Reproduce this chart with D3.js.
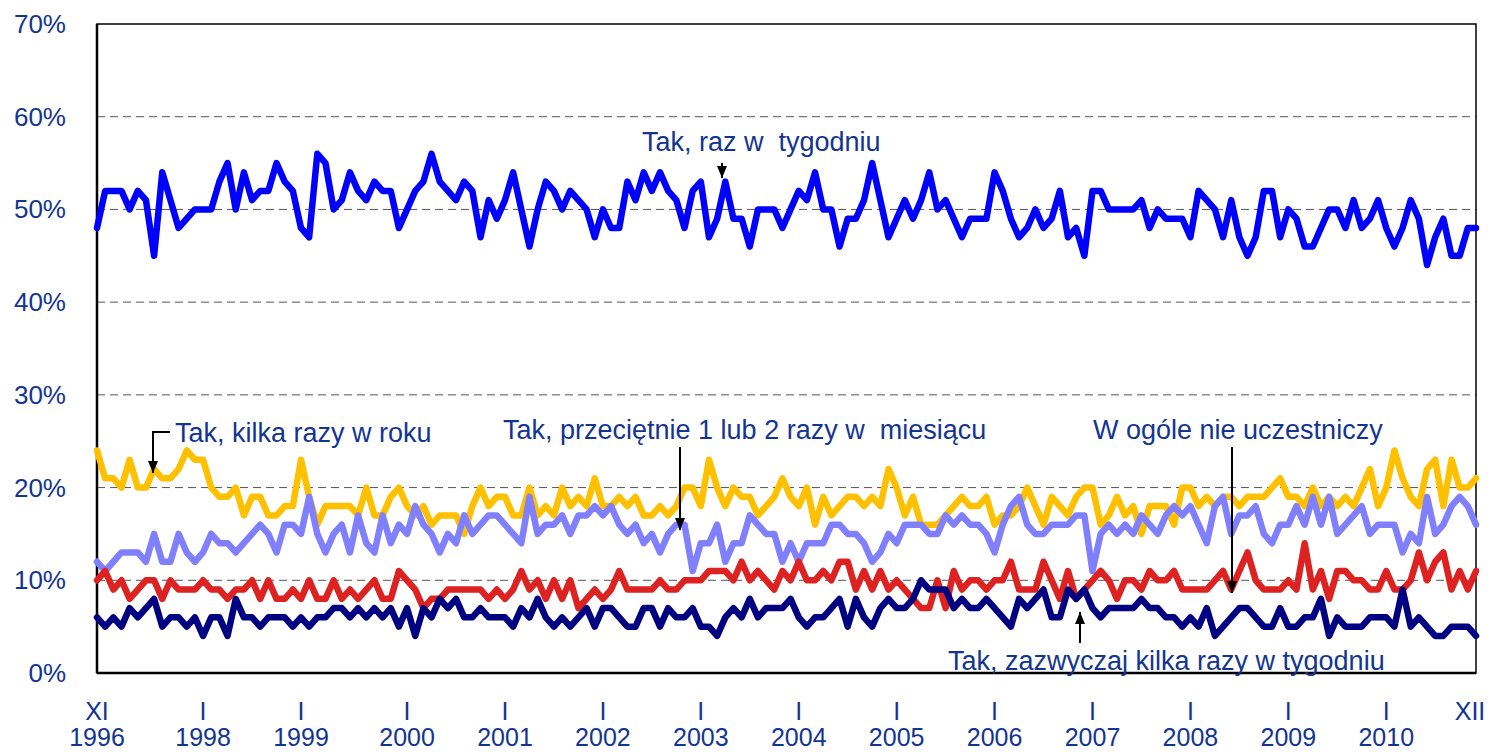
<!DOCTYPE html>
<html>
<head>
<meta charset="utf-8">
<script src="https://cdn.jsdelivr.net/npm/d3@7"></script>
<style>
	body { margin: 0; background: #fff; }
	svg { display: block; font-family: "Liberation Sans", Arial, sans-serif; }
</style>
</head>
<body>
<div id="chart"></div>
<script>
// one value per survey, XI 1996 .. XII 2010
var razWTygodniu = [48,52,52,52,50,52,51,45,54,51,48,49,50,50,50,53,55,50,54,51,52,52,55,53,52,48,47,56,55,50,
	51,54,52,51,53,52,52,48,50,52,53,56,53,52,51,53,52,47,51,49,51,54,50,46,50,53,52,50,52,51,
	50,47,50,48,48,53,51,54,52,54,52,51,48,52,53,47,49,53,49,49,46,50,50,50,48,50,52,51,54,50,
	50,46,49,49,51,55,51,47,49,51,49,51,54,50,51,49,47,49,49,49,54,52,49,47,48,50,48,49,52,47,
	48,45,52,52,50,50,50,50,51,48,50,49,49,49,47,52,51,50,47,51,47,45,47,52,52,47,50,49,46,46,
	48,50,50,48,51,48,49,51,48,46,48,51,49,44,47,49,45,45,48,48];
var kilkaRazyWRoku = [24,21,21,20,23,20,20,22,21,21,22,24,23,23,20,19,19,20,17,19,19,17,17,18,18,23,19,16,18,18,
	18,18,17,20,17,17,19,20,18,17,18,16,17,17,17,15,18,20,18,19,19,17,17,20,17,18,17,20,18,19,
	18,21,18,18,19,18,19,17,17,18,17,18,20,20,18,23,20,18,20,19,19,17,18,19,21,19,18,20,16,19,
	17,18,19,19,18,19,18,22,20,17,19,16,16,16,17,18,19,18,18,19,16,17,17,18,20,18,16,19,18,17,
	19,20,20,16,17,19,17,18,15,18,18,18,16,20,20,18,19,18,19,19,18,19,19,19,20,21,19,19,18,20,
	18,19,18,19,18,20,22,18,20,24,21,19,18,22,23,18,23,20,20,21];
var razyWMiesiacu = [12,11,12,13,13,13,12,15,12,12,15,13,12,13,15,14,14,13,14,15,16,15,13,16,16,15,19,15,13,15,
	16,13,17,14,13,17,14,16,15,18,16,15,13,15,14,17,15,16,17,17,16,15,14,19,15,16,16,17,15,17,
	17,18,17,18,16,15,16,14,15,13,15,16,16,11,14,14,16,12,14,14,17,16,15,15,12,14,12,14,14,14,
	16,16,15,15,14,12,13,15,14,16,16,16,15,15,17,16,17,16,16,15,13,16,18,19,16,15,15,16,16,16,
	17,17,11,15,16,15,16,15,17,16,15,17,18,17,18,16,14,18,19,15,17,17,18,15,14,16,16,18,16,19,
	16,19,15,16,17,18,15,16,16,16,13,15,14,19,15,16,18,19,18,16];
var nieUczestniczy = [10,11,9,10,8,9,10,10,8,10,9,9,9,10,9,9,8,9,9,10,8,10,8,8,9,8,10,8,8,10,
	8,9,8,9,10,8,8,11,10,9,7,8,8,9,9,9,9,9,8,9,8,9,11,9,10,8,10,8,10,7,
	8,9,8,9,11,9,9,9,9,10,9,9,10,10,10,11,11,11,10,12,10,11,10,9,11,10,12,10,10,11,
	10,12,12,9,11,9,11,9,10,9,8,7,7,10,7,11,9,10,10,9,10,10,12,9,9,9,12,10,8,11,
	8,9,10,11,10,8,10,10,9,11,10,10,11,9,9,9,9,10,11,9,11,13,10,9,9,9,10,9,14,9,
	11,8,11,11,10,10,9,9,11,9,9,10,13,10,12,13,9,11,9,11];
var kilkaRazyWTygodniu = [6,5,6,5,7,6,7,8,5,6,6,5,6,4,6,6,4,8,6,6,5,6,6,6,5,6,5,6,6,7,
	7,6,7,6,7,6,7,5,7,4,7,6,8,7,8,6,6,7,6,6,6,5,7,6,8,6,5,6,5,6,
	7,5,7,7,6,5,5,7,7,5,7,6,6,7,5,5,4,6,7,6,8,6,7,7,7,8,6,5,6,6,
	7,8,5,8,6,5,7,8,7,7,8,10,9,9,9,7,8,7,7,8,7,6,5,8,7,8,9,6,6,9,
	8,9,7,6,7,7,7,7,8,7,7,6,6,5,6,5,7,4,5,6,7,7,6,5,5,7,5,5,6,6,
	8,4,6,5,5,5,6,6,6,5,9,5,6,5,4,4,5,5,5,4];

var monthLabels = ["XI","I","I","I","I","I","I","I","I","I","I","I","I","I","XII"];
var yearLabels = ["1996","1998","1999","2000","2001","2002","2003","2004","2005","2006","2007","2008","2009","2010",""];
var labelIndex = [0,13,25,38,50,62,74,86,98,110,122,134,146,158,169];
var yTicks = [0,10,20,30,40,50,60,70];

var drawChart = function(selector) {
	var W = 1492, H = 752;
	var left = 97, right = 1476, top = 24, bottom = 673;
	var textColor = "#14358f";

	var svg = d3.select(selector).append("svg")
		.attr("width", W)
		.attr("height", H);

	var x = d3.scaleLinear().domain([0, razWTygodniu.length - 1]).range([left, right]);
	var y = d3.scaleLinear().domain([0, 70]).range([bottom, top]);

	// dashed gridlines
	svg.append("g").selectAll("line")
		.data(yTicks.filter(function(d) { return d > 0 && d < 70; }))
		.enter().append("line")
		.attr("x1", left).attr("x2", right)
		.attr("y1", function(d) { return y(d); })
		.attr("y2", function(d) { return y(d); })
		.attr("stroke", "#555")
		.attr("stroke-width", 1)
		.attr("stroke-dasharray", "8,5");

	// frame
	svg.append("rect")
		.attr("x", left).attr("y", top)
		.attr("width", right - left).attr("height", bottom - top)
		.attr("fill", "none")
		.attr("stroke", "#000")
		.attr("stroke-width", 1.5);
	svg.append("line")
		.attr("x1", left).attr("x2", left)
		.attr("y1", top).attr("y2", bottom)
		.attr("stroke", "#000").attr("stroke-width", 2.5);
	svg.append("line")
		.attr("x1", left).attr("x2", right)
		.attr("y1", bottom).attr("y2", bottom)
		.attr("stroke", "#000").attr("stroke-width", 2.5);

	// y labels
	svg.append("g").selectAll("text")
		.data(yTicks)
		.enter().append("text")
		.attr("x", 66)
		.attr("y", function(d) { return y(d) + 9; })
		.attr("text-anchor", "end")
		.attr("font-size", "26px")
		.attr("fill", textColor)
		.text(function(d) { return d + "%"; });

	// x labels
	var xl = svg.append("g");
	labelIndex.forEach(function(idx, i) {
		xl.append("text")
			.attr("x", x(idx) - (i == labelIndex.length - 1 ? 6 : 0))
			.attr("y", 720)
			.attr("text-anchor", "middle")
			.attr("font-size", "25px")
			.attr("fill", textColor)
			.text(monthLabels[i]);
		xl.append("text")
			.attr("x", x(idx))
			.attr("y", 746)
			.attr("text-anchor", "middle")
			.attr("font-size", "25px")
			.attr("fill", textColor)
			.text(yearLabels[i]);
	});

	var line = d3.line()
		.x(function(d, i) { return x(i); })
		.y(function(d) { return y(d); });

	var series = [
		{ values: razWTygodniu, color: "#0000ff" },
		{ values: kilkaRazyWRoku, color: "#ffc000" },
		{ values: razyWMiesiacu, color: "#8080ff" },
		{ values: nieUczestniczy, color: "#dd2222" },
		{ values: kilkaRazyWTygodniu, color: "#000080" }
	];
	series.forEach(function(s) {
		svg.append("path")
			.attr("d", line(s.values))
			.attr("fill", "none")
			.attr("stroke", s.color)
			.attr("stroke-width", 6.5)
			.attr("stroke-linejoin", "round")
			.attr("stroke-linecap", "round");
	});

	// annotations: text plus a leader line ending in a small black triangle
	var label = function(txt, tx, ty, pts) {
		svg.append("text")
			.attr("x", tx).attr("y", ty)
			.attr("font-size", "27px")
			.attr("fill", textColor)
			.style("white-space", "pre")
			.text(txt);
		svg.append("path")
			.attr("d", d3.line()(pts))
			.attr("fill", "none")
			.attr("stroke", "#000")
			.attr("stroke-width", 2);
		var a = pts[pts.length - 1], b = pts[pts.length - 2];
		var dir = a[1] > b[1] ? 1 : -1;
		svg.append("path")
			.attr("d", "M" + (a[0] - 5) + "," + (a[1] - 12 * dir) + "L" + (a[0] + 5) + "," + (a[1] - 12 * dir) + "L" + a[0] + "," + a[1] + "Z")
			.attr("fill", "#000");
	};

	label("Tak, raz w  tygodniu", 642, 151, [[722, 163], [722, 178]]);
	label("Tak, kilka razy w roku", 175, 442, [[170, 432], [153, 432], [153, 473]]);
	label("Tak, przeciętnie 1 lub 2 razy w  miesiącu", 503, 439, [[680, 447], [680, 530]]);
	label("W ogóle nie uczestniczy", 1093, 439, [[1232, 447], [1232, 593]]);
	label("Tak, zazwyczaj kilka razy w tygodniu", 948, 670, [[1080, 643], [1080, 612]]);
};

drawChart("#chart");
</script>
</body>
</html>
